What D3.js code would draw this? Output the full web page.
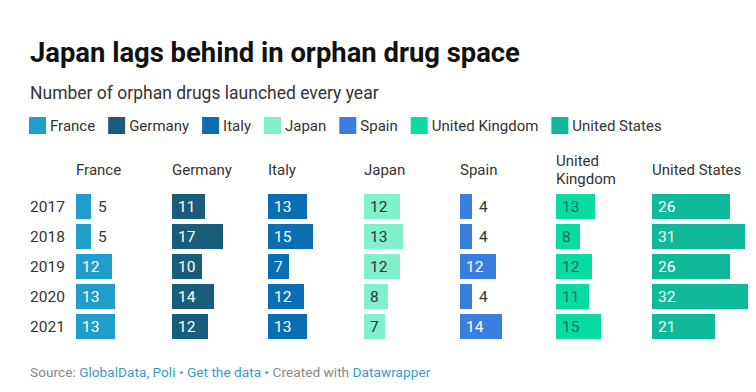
<!DOCTYPE html>
<html><head><meta charset="utf-8">
<script src="https://cdn.jsdelivr.net/npm/d3@7"></script>
<style>
body{margin:0;background:#fff;}
svg{font-family:Roboto, "Noto Sans", sans-serif;}
</style></head>
<body><svg id="c" width="756" height="392"></svg>
<script>
const countries = ["France","Germany","Italy","Japan","Spain","United Kingdom","United States"];
const years = ["2017","2018","2019","2020","2021"];
const france  = [5,5,12,13,13];
const germany = [11,17,10,14,12];
const italy   = [13,15,7,12,13];
const japan   = [12,13,12,8,7];
const spain   = [4,4,12,4,14];
const uk      = [13,8,12,11,15];
const us      = [26,31,26,32,21];
const seriesValues = [france,germany,italy,japan,spain,uk,us];
const colors = ["#1f9ecb","#1a5d7a","#0b6db2","#80f1cc","#3a7fe0","#09dca0","#11b99b"];
const labelColors = ["#fff","#fff","#fff","#333","#fff","#1b6f57","#fff"];
const headerLines = [["France"],["Germany"],["Italy"],["Japan"],["Spain"],["United","Kingdom"],["United States"]];

const svg = d3.select("#c");
svg.append("rect").attr("width",756).attr("height",392).attr("fill","#fff");

svg.append("text").attr("x",30).attr("y",62).attr("font-size",27.4).attr("font-weight",700)
  .attr("fill","#111").text("Japan lags behind in orphan drug space");
svg.append("text").attr("x",30).attr("y",99).attr("font-size",17.5)
  .attr("fill","#333").text("Number of orphan drugs launched every year");

// legend
const lg = svg.append("g");
let lx = 29;
countries.forEach((c,i)=>{
  lg.append("rect").attr("x",lx).attr("y",117).attr("width",17).attr("height",17).attr("fill",colors[i]);
  const t = lg.append("text").attr("x",lx+21).attr("y",131).attr("font-size",15).attr("fill","#333").text(c);
  lx += 21 + t.node().getComputedTextLength() + 13;
});

const xCol = d3.scaleBand().domain(countries).range([76, 76+96*7]).paddingInner(0);
const xVal = d3.scaleLinear().domain([0,32]).range([0,96]);
const y = d3.scaleBand().domain(years).range([194,339]).paddingInner(1/6).paddingOuter(0);

// headers
countries.forEach((c,i)=>{
  const lines = headerLines[i];
  const t = svg.append("text").attr("font-size",15).attr("fill","#333");
  lines.forEach((l,j)=>{
    const base = lines.length===1 ? 175 : 166 + j*18;
    t.append("tspan").attr("x",xCol(c)).attr("y",base).text(l);
  });
});

// year labels
svg.selectAll("text.yr").data(years).join("text").attr("class","yr")
  .attr("x",30).attr("y",d=>y(d)+y.bandwidth()/2).attr("dy","0.36em")
  .attr("font-size",15.5).attr("fill","#333").text(d=>d);

countries.forEach((c,i)=>{
  const data = years.map((yr,k)=>({yr, v: seriesValues[i][k]}));
  const g = svg.append("g");
  g.selectAll("rect").data(data).join("rect")
    .attr("x",xCol(c)).attr("y",d=>y(d.yr))
    .attr("width",d=>xVal(d.v)).attr("height",y.bandwidth()).attr("fill",colors[i]);
  g.selectAll("text").data(data).join("text")
    .attr("x",d=> xVal(d.v) >= 20 ? xCol(c)+6 : xCol(c)+xVal(d.v)+7)
    .attr("y",d=>y(d.yr)+y.bandwidth()/2).attr("dy","0.36em")
    .attr("font-size",15.5)
    .attr("fill",d=> xVal(d.v) >= 20 ? labelColors[i] : "#333")
    .text(d=>d.v);
});

// footer
const ft = svg.append("text").attr("x",30).attr("y",377).attr("font-size",13.7).attr("fill","#888");
const parts = [["Source: ","#888"],["GlobalData, Poli","#3a9cc4"],[" • ","#888"],["Get the data","#3a9cc4"],[" • Created with ","#888"],["Datawrapper","#3a9cc4"]];
parts.forEach(p=>ft.append("tspan").attr("fill",p[1]).text(p[0]));
</script></body></html>
